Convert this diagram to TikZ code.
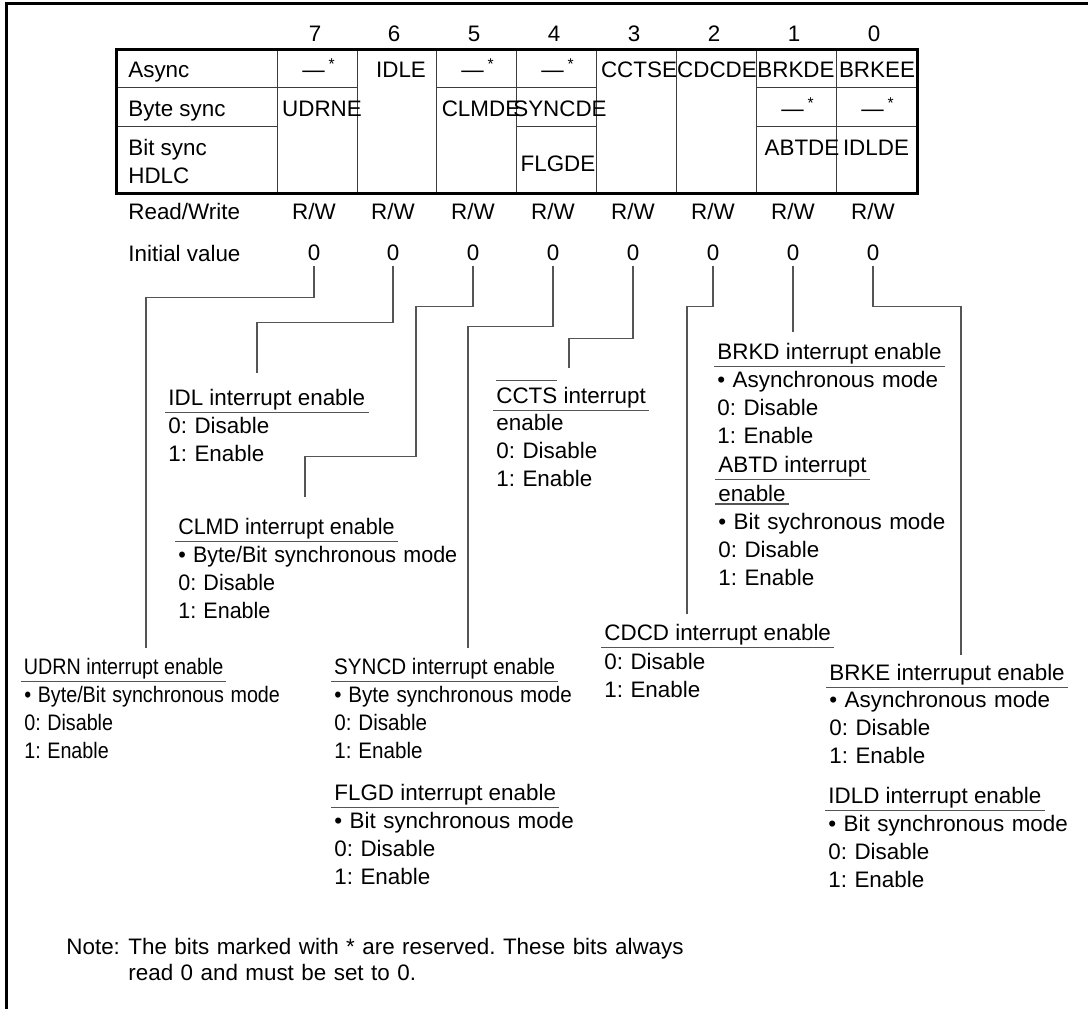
\documentclass[tikz,border=0pt]{standalone}
\usepackage{fontspec}
\setmainfont{Liberation Sans}
\usetikzlibrary{positioning}
\definecolor{linec}{RGB}{85,85,85}
\definecolor{gridc}{RGB}{60,60,60}

% overbar for the negated CCTS name
\newsavebox\ovlbox
\newcommand\ovltext[1]{\sbox\ovlbox{#1}\rlap{\textcolor{linec}{\rule[10.8pt]{\wd\ovlbox}{0.5pt}}}\usebox\ovlbox}

\begin{document}
\frenchspacing
\begin{tikzpicture}[
  x=0.5pt, y=-0.5pt,
  font=\fontsize{11.2}{14}\selectfont,
  cell/.style={anchor=base, inner sep=0pt},
  lbl/.style={anchor=base west, inner sep=0pt},
  val/.style={inner sep=2.5pt},
  ttl/.style={anchor=base west, inner xsep=1.5pt, inner ysep=1.2pt},
  body/.style={anchor=base west, inner sep=0pt, text width=170pt, align=left},
  squeeze/.style={xscale=#1, transform shape},
  grid/.style={draw=gridc, line width=0.5pt},
  conn/.style={draw=linec, line width=0.6pt},
  uline/.style={draw=linec, line width=0.6pt},
]
\useasboundingbox (0,0) rectangle (1088,1009);

% ---------------- frame ----------------
\draw[line width=1.5pt] (6.5,1009) -- (6.5,3.5) -- (1088,3.5);

% ---------------- register table ----------------
\foreach \c in {277,357,436,516,596,676,756,836} \draw[grid] (\c,49) -- (\c,193);
\draw[grid] (116,87) -- (357,87) (436,87) -- (596,87) (756,87) -- (917,87);
\draw[grid] (116,126) -- (277,126) (516,126) -- (596,126) (756,126) -- (917,126);
\draw[line width=1.5pt] (116,49) rectangle (917,193);

\node[lbl] (async) at (128,77)  {Async};
\node[lbl] (bytes) at (128,116) {Byte sync};
\node[lbl] (bitsy) at (128,155) {Bit sync};
\node[lbl] (hdlc)  at (128,183) {HDLC};
\node[lbl] (rwlbl) at (128,219) {Read/Write};
\node[lbl] (inlbl) at (128,261) {Initial value};

% bit numbers, access and initial values
\foreach \b/\x in {7/317,6/396,5/476,4/556,3/636,2/716,1/796,0/876} {
  \node[cell] (bit\b) at (\x-2,41) {\b};
  \node[cell] (rw\b)  at (\x-3,219) {R/W};
  \node[val]  (v\b)   at (\x-3,253) {0};
}

% cell contents
\node[cell] (c7a) at (319,77)  {—\,\textsuperscript{*}};
\node[cell] (c7b) at (322,116) {UDRNE};
\node[cell] (c6)  at (401,77)  {IDLE};
\node[cell] (c5a) at (478,77)  {—\,\textsuperscript{*}};
\node[cell] (c5b) at (481,116) {CLMDE};
\node[cell] (c4a) at (558,77)  {—\,\textsuperscript{*}};
\node[cell] (c4b) at (560,116) {SYNCDE};
\node[cell] (c4c) at (558,171) {FLGDE};
\node[cell] (c3)  at (639,77)  {CCTSE};
\node[cell] (c2)  at (717,77)  {CDCDE};
\node[cell] (c1a) at (796,77)  {BRKDE};
\node[cell] (c1b) at (798,116) {—\,\textsuperscript{*}};
\node[cell] (c1c) at (802,155) {ABTDE};
\node[cell] (c0a) at (877,77)  {BRKEE};
\node[cell] (c0b) at (878,116) {—\,\textsuperscript{*}};
\node[cell] (c0c) at (876,155) {IDLDE};

% ---------------- bit descriptions ----------------
\node[ttl, squeeze=0.88]  (udrn)  at (21,674)  {UDRN interrupt enable};
\node[body, squeeze=0.88] (udrnb) at (24,702)  {• Byte/Bit synchronous mode\\0: Disable\\1: Enable};

\node[ttl]  (idl)   at (165,405) {IDL interrupt enable};
\node[body] (idlb)  at (168,433) {0: Disable\\1: Enable};

\node[ttl, squeeze=0.96]  (clmd)  at (175,534) {CLMD interrupt enable};
\node[body, squeeze=0.96] (clmdb) at (178,562) {• Byte/Bit synchronous mode\\0: Disable\\1: Enable};

\node[ttl, squeeze=0.92]  (syncd)  at (331,674) {SYNCD interrupt enable};
\node[body, squeeze=0.92] (syncdb) at (334,702) {• Byte synchronous mode\\0: Disable\\1: Enable};

\node[ttl]  (flgd)  at (331,800) {FLGD interrupt enable};
\node[body] (flgdb) at (334,828) {• Bit synchronous mode\\0: Disable\\1: Enable};

\node[ttl]  (ccts)  at (493,403) {\ovltext{CCTS} interrupt};
\node[body] (cctsb) at (496,430) {enable\\0: Disable\\1: Enable};

\node[ttl]  (cdcd)  at (601,640) {CDCD interrupt enable};
\node[body] (cdcdb) at (604,669) {0: Disable\\1: Enable};

\node[ttl]  (brkd)  at (714,359) {BRKD interrupt enable};
\node[body] (brkdb) at (717,387) {• Asynchronous mode\\0: Disable\\1: Enable};

\node[ttl]  (abtd)  at (715,472) {ABTD interrupt};
\node[ttl]  (abtde) at (715,501) {enable};
\node[body] (abtdb) at (718,529) {• Bit sychronous mode\\0: Disable\\1: Enable};

\node[ttl]  (brke)  at (826,680) {BRKE interruput enable};
\node[body] (brkeb) at (829,707) {• Asynchronous mode\\0: Disable\\1: Enable};

\node[ttl]  (idld)  at (825,803) {IDLD interrupt enable};
\node[body] (idldb) at (828,831) {• Bit synchronous mode\\0: Disable\\1: Enable};

\foreach \n in {udrn,idl,clmd,syncd,flgd,ccts,cdcd,brkd,abtd,abtde,brke,idld}
  \draw[uline] (\n.south west) -- (\n.south east);

% ---------------- connectors ----------------
\coordinate (udrn-in)  at (146,648);
\coordinate (idl-in)   at (257,373);
\coordinate (clmd-in)  at (305,497);
\coordinate (syncd-in) at (468,648);
\coordinate (ccts-in)  at (569,368);
\coordinate (cdcd-in)  at (687,614);
\coordinate (brkd-in)  at (793,332);
\coordinate (brke-in)  at (961,655);

\draw[conn] (v7.south) -- ++(0,31) -| (udrn-in);
\draw[conn] (v6.south) -- ++(0,56) -| (idl-in);
\draw[conn] (v5.south) -- ++(0,40) -| ++(-57,150) -| (clmd-in);
\draw[conn] (v4.south) -- ++(0,60) -| (syncd-in);
\draw[conn] (v3.south) -- ++(0,72) -| (ccts-in);
\draw[conn] (v2.south) -- ++(0,40) -| (cdcd-in);
\draw[conn] (v1.south) -- (brkd-in);
\draw[conn] (v0.south) -- ++(0,40) -| (brke-in);

% ---------------- note ----------------
\node[lbl] (notelbl) at (66,954) {Note:};
\node[body, text width=420pt, font=\fontsize{11.2}{13}\selectfont] (notetxt) at (128,954)
  {The bits marked with * are reserved. These bits always\\read 0 and must be set to 0.};

\end{tikzpicture}
\end{document}
